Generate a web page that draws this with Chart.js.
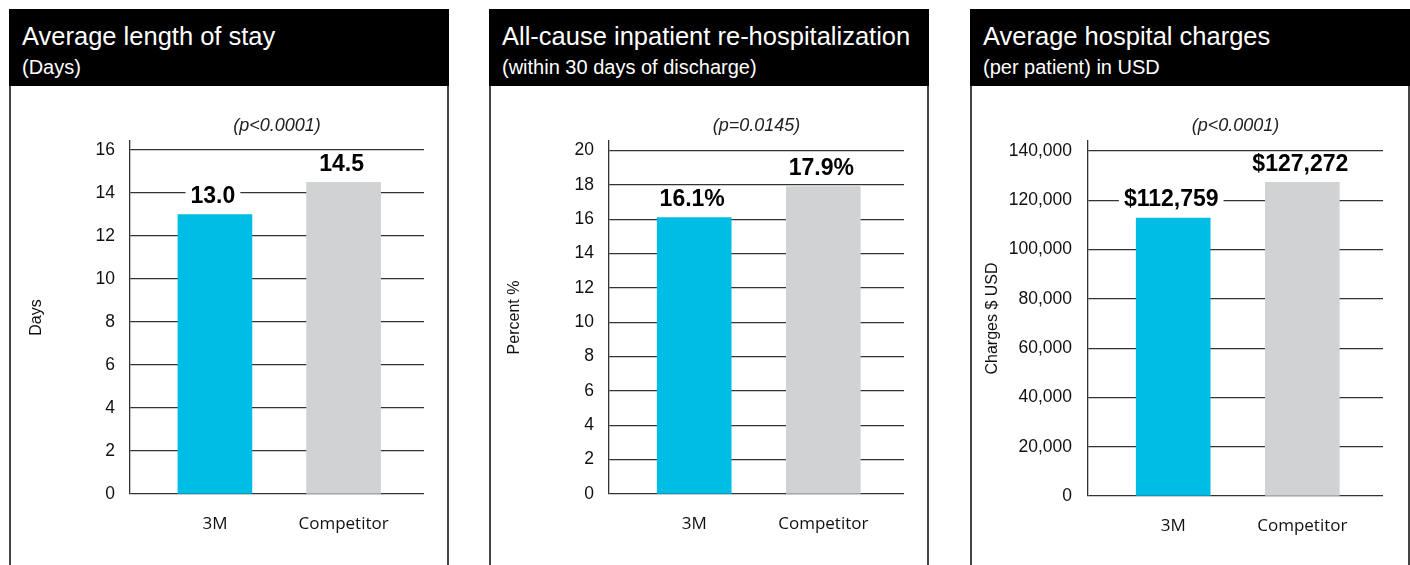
<!DOCTYPE html>
<html>
<head>
<meta charset="utf-8">
<script src="https://cdn.jsdelivr.net/npm/chart.js@4.4.1/dist/chart.umd.min.js"></script>
<style>
  body { margin: 0; background: #fff; width: 1410px; height: 565px; overflow: hidden; position: relative; }
  .panel { position: absolute; top: 9px; width: 440px; height: 620px; box-sizing: border-box;
           border-left: 2px solid #444; border-right: 2px solid #444; }
  .head { position: absolute; left: -2px; top: 0; width: 440px; height: 77px; background: #000; color: #fff;
          font-family: "Liberation Sans", Arial, sans-serif; }
  .head .t { position: absolute; left: 13px; top: 15px; font-size: 25.5px; line-height: 25px; white-space: nowrap; }
  .head .s { position: absolute; left: 13px; top: 48px; font-size: 20px; line-height: 20px; white-space: nowrap; }
  canvas { position: absolute; left: 0; top: 78px; }
</style>
</head>
<body>
<div class="panel" style="left:9px"><div class="head"><div class="t">Average length of stay</div><div class="s">(Days)</div></div><canvas id="c1" width="436" height="478"></canvas></div>
<div class="panel" style="left:489px"><div class="head"><div class="t">All-cause inpatient re-hospitalization</div><div class="s">(within 30 days of discharge)</div></div><canvas id="c2" width="436" height="478"></canvas></div>
<div class="panel" style="left:970px"><div class="head"><div class="t">Average hospital charges</div><div class="s">(per patient) in USD</div></div><canvas id="c3" width="436" height="478"></canvas></div>
<script>
var categories = ["3M", "Competitor"];
var stayDays = [13.0, 14.5];
var rehospPct = [16.1, 17.9];
var chargesUsd = [112759, 127272];
var stayTicks = [0, 2, 4, 6, 8, 10, 12, 14, 16];
var pctTicks = [0, 2, 4, 6, 8, 10, 12, 14, 16, 18, 20];
var usdTicks = [0, 20000, 40000, 60000, 80000, 100000, 120000, 140000];
var pValues = ["(p<0.0001)", "(p=0.0145)", "(p<0.0001)"];
var axisTitles = ["Days", "Percent %", "Charges $ USD"];
var barColors = ["#00bde6", "#d1d2d4"];

var font = '"Liberation Sans", Arial, sans-serif';

function money(v) { return "$" + v.toLocaleString("en-US"); }

function labelPlugin(fmt, pText) {
  return {
    id: "valueLabels",
    afterDatasetsDraw: function (chart) {
      var ctx = chart.ctx;
      var meta = chart.getDatasetMeta(0);
      var data = chart.data.datasets[0].data;
      ctx.save();
      ctx.textAlign = "center";
      ctx.textBaseline = "middle";
      ctx.font = "bold 23px " + font;
      meta.data.forEach(function (bar, i) {
        var txt = fmt(data[i].y);
        var w = ctx.measureText(txt).width + 10;
        var y = bar.y - 19;
        ctx.fillStyle = "#fff";
        ctx.fillRect(bar.x - 2 - w / 2, y - 11, w, 22);
        ctx.fillStyle = "#000";
        ctx.fillText(txt, bar.x - 2, y + 1);
      });
      var ca = chart.chartArea;
      ctx.font = "italic 18px " + font;
      ctx.fillStyle = "#222";
      ctx.fillText(pText, (ca.left + ca.right) / 2, ca.top - 15);
      ctx.restore();
    }
  };
}

function makeChart(id, values, ticks, n, yMax, tickFmt, fmt, axisW, titlePad, padRight, padBottom, tickPad) {
  new Chart(id, {
    type: "bar",
    data: {
      datasets: [{
        data: values.map(function (v, i) { return { x: i, y: v }; }),
        backgroundColor: barColors,
        barThickness: 74
      }]
    },
    options: {
      responsive: false,
      animation: false,
      devicePixelRatio: 1,
      layout: { padding: { top: 54, right: padRight, bottom: padBottom, left: 0 } },
      plugins: { legend: { display: false }, tooltip: { enabled: false } },
      scales: {
        x: {
          type: "linear",
          offset: false,
          min: -0.66,
          max: 1.625,
          grid: { display: false, drawTicks: false },
          border: { display: false },
          afterBuildTicks: function (s) { s.ticks = categories.map(function (c, i) { return { value: i }; }); },
          afterFit: function (s) { s.height = 50; },
          ticks: {
            callback: function (v) { return categories[v]; },
            padding: 20, color: "#111", autoSkip: false, maxRotation: 0,
            font: { family: '"Open Sans", sans-serif', size: 17 }
          }
        },
        y: {
          min: 0,
          max: yMax,
          afterBuildTicks: function (s) { s.ticks = ticks.map(function (t) { return { value: t }; }); },
          afterFit: function (s) { s.width = axisW; },
          grid: { color: "#333", lineWidth: 1.3, drawTicks: false },
          border: { color: "#333", width: 1.3 },
          ticks: {
            padding: tickPad, color: "#111",
            font: { family: font, size: 17.5 },
            callback: tickFmt
          },
          title: {
            display: true, text: axisTitles[n], color: "#111",
            font: { family: font, size: 16 },
            padding: { top: titlePad, bottom: 0 }
          }
        }
      }
    },
    plugins: [labelPlugin(fmt, pValues[n])]
  });
}

makeChart("c1", stayDays, stayTicks, 0, 16.42, function (v) { return v; },
  function (v) { return v.toFixed(1); }, 119, 16.4, 23, 21, 15);
makeChart("c2", rehospPct, pctTicks, 1, 20.56, function (v) { return v; },
  function (v) { return v.toFixed(1) + "%"; }, 118, 14.4, 23, 21, 15);
makeChart("c3", chargesUsd, usdTicks, 2, 144066, function (v) { return v.toLocaleString("en-US"); },
  money, 116, 11.4, 25, 19, 16);
</script>
</body>
</html>
